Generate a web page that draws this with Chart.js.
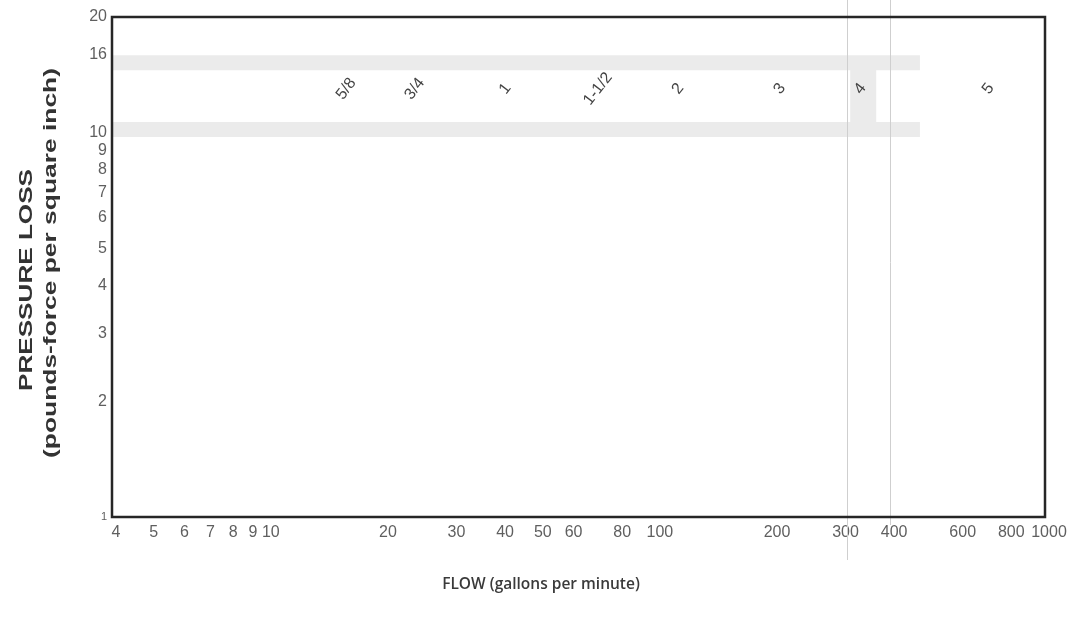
<!DOCTYPE html>
<html>
<head>
<meta charset="utf-8">
<script src="https://cdn.jsdelivr.net/npm/chart.js@4.4.0/dist/chart.umd.min.js"></script>
<style>
html, body { margin: 0; padding: 0; background: #fff; }
#wrap { width: 1083px; height: 621px; }
</style>
</head>
<body>
<div id="wrap"><canvas id="chart" width="1083" height="621"></canvas></div>
<script>
// axis ticks (log-log)
const flowTicks = [4, 5, 6, 7, 8, 9, 10, 20, 30, 40, 50, 60, 80, 100, 200, 300, 400, 600, 800, 1000];
const lossTicks = [1, 2, 3, 4, 5, 6, 7, 8, 9, 10, 16, 20];

// hose size labels
const hoseSizes = ['5/8', '3/4', '1', '1-1/2', '2', '3', '4', '5'];
const hoseFlow = [16, 24, 41, 71, 114, 208, 335, 715];
const hoseLoss = [13, 13, 13, 13, 13, 13, 13, 13];

// shaded bands
const bandLoss = [15.2, 10.2];
const bandFlow = [4, 477];
const boxFlow = [341, 341];
const boxLoss = [10.2, 15.2];

// vertical marker lines
const markerFlow = [310, 400];

const TICK_COLOR = '#5f5f5f';
const BAND_COLOR = '#ebebeb';

function bandDataset(loss) {
	return {
		type: 'line',
		data: bandFlow.map((x) => ({ x: x, y: loss })),
		borderColor: BAND_COLOR,
		borderWidth: 15,
		borderCapStyle: 'butt',
		pointRadius: 0,
		showLine: true
	};
}

const frame = {
	id: 'frame',
	afterDatasetsDraw(chart) {
		const ctx = chart.ctx;
		const area = chart.chartArea;
		const xs = chart.scales.x;

		// marker lines, reaching past the plot box
		const ends = [560, 525];
		ctx.save();
		ctx.strokeStyle = '#cfcfcf';
		ctx.lineWidth = 1;
		markerFlow.forEach((v, i) => {
			const px = Math.round(xs.getPixelForValue(v)) + 0.5;
			ctx.beginPath();
			ctx.moveTo(px, 0);
			ctx.lineTo(px, ends[i]);
			ctx.stroke();
		});
		ctx.restore();

		// hose size labels
		const ys = chart.scales.y;
		ctx.save();
		ctx.fillStyle = '#444';
		ctx.font = '16px "Liberation Sans", Arial, sans-serif';
		ctx.textAlign = 'center';
		ctx.textBaseline = 'middle';
		hoseSizes.forEach((label, i) => {
			ctx.save();
			ctx.translate(xs.getPixelForValue(hoseFlow[i]), ys.getPixelForValue(hoseLoss[i]));
			ctx.rotate(-52 * Math.PI / 180);
			ctx.fillText(label, 0, 0);
			ctx.restore();
		});
		ctx.restore();

		// plot border
		ctx.save();
		ctx.strokeStyle = '#262626';
		ctx.lineWidth = 2.5;
		ctx.strokeRect(area.left, area.top, area.right - area.left, area.bottom - area.top);
		ctx.restore();
	},
	afterDraw(chart) {
		const ctx = chart.ctx;

		ctx.save();
		ctx.fillStyle = '#333';
		ctx.textAlign = 'center';
		ctx.textBaseline = 'middle';
		ctx.font = 'bold 19px "Liberation Sans", Arial, sans-serif';
		const lines = [
			{ text: 'PRESSURE LOSS', x: 27, y: 280, len: 222 },
			{ text: '(pounds-force per square inch)', x: 51, y: 263, len: 390 }
		];
		lines.forEach((line) => {
			const w = ctx.measureText(line.text).width;
			ctx.save();
			ctx.translate(line.x, line.y);
			ctx.rotate(-Math.PI / 2);
			ctx.scale(line.len / w, 1);
			ctx.fillText(line.text, 0, 0);
			ctx.restore();
		});

		ctx.font = '600 15.5px "Open Sans", sans-serif';
		ctx.fillStyle = '#3a3a3a';
		ctx.fillText('FLOW (gallons per minute)', 541, 585);
		ctx.restore();
	}
};

new Chart(document.getElementById('chart').getContext('2d'), {
	type: 'scatter',
	data: {
		datasets: [
			bandDataset(bandLoss[0]),
			bandDataset(bandLoss[1]),
			{
				type: 'line',
				data: boxFlow.map((x, i) => ({ x: x, y: boxLoss[i] })),
				borderColor: BAND_COLOR,
				borderWidth: 26,
				borderCapStyle: 'butt',
				pointRadius: 0,
				showLine: true
			}
		]
	},
	options: {
		responsive: false,
		animation: false,
		layout: { padding: { top: 17, right: 38, left: 0, bottom: 0 } },
		plugins: {
			legend: { display: false },
			tooltip: { enabled: false }
		},
		scales: {
			x: {
				type: 'logarithmic',
				min: 4,
				max: 1000,
				grid: { display: false, drawTicks: false },
				border: { display: false },
				afterBuildTicks(scale) {
					scale.ticks = flowTicks.map((v) => ({ value: v }));
				},
				afterFit(scale) {
					scale.height = 104;
				},
				ticks: {
					autoSkip: false,
					maxRotation: 0,
					padding: 6,
					labelOffset: 4,
					color: TICK_COLOR,
					font: { family: '"Liberation Sans", Arial, sans-serif', size: 16 },
					callback: (v) => String(v)
				}
			},
			y: {
				type: 'logarithmic',
				min: 1,
				max: 20,
				grid: { display: false, drawTicks: false },
				border: { display: false },
				afterBuildTicks(scale) {
					scale.ticks = lossTicks.map((v) => ({ value: v }));
				},
				afterFit(scale) {
					scale.width = 112;
				},
				ticks: {
					autoSkip: false,
					padding: 5,
					color: TICK_COLOR,
					font: (c) => ({
						family: '"Liberation Sans", Arial, sans-serif',
						size: c.tick && c.tick.value === 1 ? 11 : 16
					}),
					callback: (v) => String(v)
				}
			}
		}
	},
	plugins: [frame]
});
</script>
</body>
</html>
